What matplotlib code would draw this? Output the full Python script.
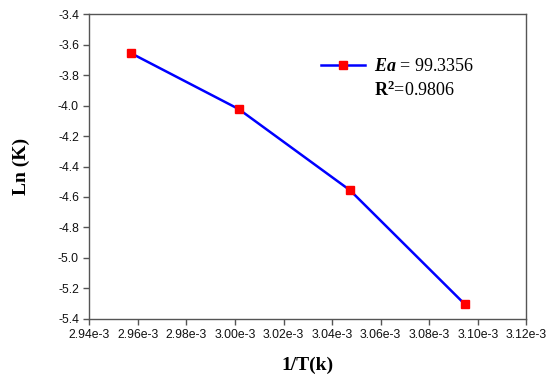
import numpy as np
import matplotlib.pyplot as plt

# datos
inv_T = [2.9573e-3, 3.0015e-3, 3.0474e-3, 3.0946e-3]
ln_k = [-3.658, -4.023, -4.556, -5.302]
x_ticks = [2.94e-3, 2.96e-3, 2.98e-3, 3.00e-3, 3.02e-3, 3.04e-3, 3.06e-3, 3.08e-3, 3.10e-3, 3.12e-3]
y_ticks = [-5.4, -5.2, -5.0, -4.8, -4.6, -4.4, -4.2, -4.0, -3.8, -3.6, -3.4]
ea_text = "99.3356"
r2_text = "0.9806"

plt.rcParams['mathtext.fontset'] = 'custom'
plt.rcParams['mathtext.rm'] = 'Liberation Serif'
plt.rcParams['mathtext.bf'] = 'Liberation Serif:bold'
plt.rcParams['mathtext.it'] = 'Liberation Serif:italic'
plt.rcParams['mathtext.bfit'] = 'Liberation Serif:bold:italic'

fig = plt.figure(figsize=(5.56, 3.84), dpi=100)
ax = fig.add_axes([0.1606, 0.1693, 0.786, 0.7942])

ax.plot(inv_T, ln_k, color='#0000ff', lw=1.8, marker='s', ms=6,
        mfc='#ff0000', mec='#ff0000', label=r"$\mathbfit{Ea}$ = " + ea_text)

ax.set_xlim(2.94e-3, 3.12e-3)
ax.set_ylim(-5.4, -3.4)
ax.set_xticks(x_ticks)
ax.set_yticks(y_ticks)
ax.set_xticklabels([f"{v*1e3:.2f}e-3" for v in x_ticks])
ax.set_yticklabels([f"{v:.1f}" for v in y_ticks])

for s in ax.spines.values():
    s.set_color('#555555')
    s.set_linewidth(1.0)
ax.tick_params(direction='out', length=4, width=1, color='#555555',
               labelsize=8.8, labelcolor='#111111', pad=3.5)
for lab in ax.get_xticklabels() + ax.get_yticklabels():
    lab.set_family('Liberation Sans')

ax.set_xlabel("1/T(k)", family='Liberation Serif', fontweight='bold', fontsize=14, labelpad=11)
ax.set_ylabel("Ln (K)", family='Liberation Serif', fontweight='bold', fontsize=14, labelpad=20)

leg = ax.legend(loc='center left', bbox_to_anchor=(0.530, 0.827), frameon=False,
                borderpad=0, borderaxespad=0, handlelength=2.42, handletextpad=0.52,
                prop={'family': 'Liberation Serif', 'size': 13})
ax.text(0.6515, 0.751, r"$\mathbf{R^2}$=" + r2_text, transform=ax.transAxes,
        family='Liberation Serif', fontsize=13, va='center', ha='left')

fig.savefig("out.png", dpi=100)
